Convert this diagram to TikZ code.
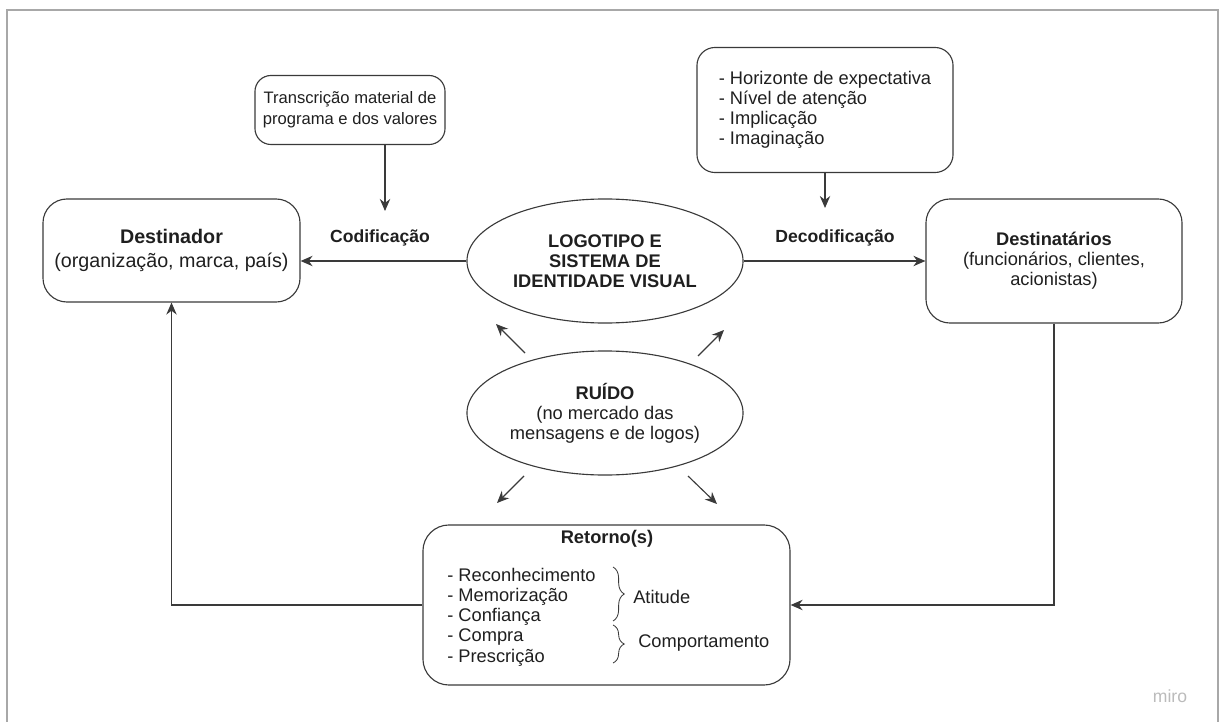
\documentclass[tikz,border=0pt]{standalone}
\usepackage{fontspec}
\setmainfont{Liberation Sans}
\usetikzlibrary{arrows.meta,positioning,shapes.geometric,decorations.pathreplacing}
\definecolor{inkGray}{HTML}{3A3A3A}
\definecolor{frameGray}{HTML}{A8A8A8}
\definecolor{miroGray}{HTML}{BBBBBB}

\begin{document}
\begin{tikzpicture}[
  x=0.025cm, y=-0.025cm,
  >=Stealth,
  font=\fontsize{13}{14.2}\selectfont,
  roundbox/.style={draw=inkGray, line width=0.8pt, rounded corners=0.5cm, align=center, inner sep=0pt, text=black!88},
  oval/.style={ellipse, draw=inkGray, line width=0.8pt, align=center, inner sep=0pt, minimum width=6.9cm, minimum height=3.1cm, text=black!88},
  flow/.style={-{Stealth[length=3mm, width=2.6mm]}, line width=0.8pt, draw=inkGray},
  lbl/.style={font=\fontsize{12.5}{14}\selectfont\bfseries, text=black!88},
  bracefig/.style={decorate, decoration={brace, amplitude=8pt}, line width=0.6pt, draw=inkGray}
]
\useasboundingbox (0,0) rectangle (1223,722);
\draw[frameGray, line width=1.3pt] (7,722) |- (1218,10) -- (1218,722);

% top inputs
\node[roundbox, rounded corners=0.4cm, minimum width=4.75cm, minimum height=1.725cm,
  font=\fontsize{11.8}{15}\selectfont] (trans) at (350,110)
  {Transcrição material de\\programa e dos valores};
\node[roundbox, rounded corners=0.45cm, minimum width=6.4cm, minimum height=3.125cm, align=left] (recep) at (825,110)
  {- Horizonte de expectativa\\- Nível de atenção\\- Implicação\\- Imaginação};

% main row
\node[roundbox, rounded corners=0.6cm, minimum width=6.425cm, minimum height=2.575cm,
  font=\fontsize{14}{16.5}\selectfont] (dest) at (171.5,250.5)
  {\textbf{Destinador}\\(organização, marca, país)};
\node[oval, font=\fontsize{13}{14.2}\selectfont\bfseries] (logo) at (605,261)
  {LOGOTIPO E\\SISTEMA DE\\IDENTIDADE VISUAL};
\node[roundbox, rounded corners=0.6cm, minimum width=6.4cm, minimum height=3.1cm] (rcv) at (1054,261)
  {\textbf{Destinatários}\\(funcionários, clientes,\\acionistas)};

\node[lbl] (codif) at (380,238) {Codificação};
\node[lbl] (decodif) at (835,238) {Decodificação};

\coordinate (codtip) at (385,211);
\coordinate (dectip) at (825,208);
\draw[flow] (trans.south -| codtip) -- (codtip);
\draw[flow] (recep.south) -- (dectip);
\draw[flow] (logo.west) -- (logo.west -| dest.east);
\draw[flow] (logo.east) -- (rcv.west);

% noise
\node[oval] (noise) at (605,413)
  {\textbf{RUÍDO}\\(no mercado das\\mensagens e de logos)};
\coordinate (nUL) at (525,353);
\coordinate (nULtip) at (496,324);
\coordinate (nUR) at (698,356);
\coordinate (nURtip) at (724,330);
\coordinate (nLL) at (524,476);
\coordinate (nLLtip) at (497,503);
\coordinate (nLR) at (688,476);
\coordinate (nLRtip) at (717,504);
\draw[flow] (nUL) -- (nULtip);
\draw[flow] (nUR) -- (nURtip);
\draw[flow] (nLL) -- (nLLtip);
\draw[flow] (nLR) -- (nLRtip);

% feedback
\node[roundbox, rounded corners=0.65cm, minimum width=9.175cm, minimum height=4.0cm] (ret) at (606.5,605) {};
\node[lbl, font=\fontsize{13}{14.2}\selectfont\bfseries] (rettitle) at (607,539) {Retorno(s)};
\node[align=left, anchor=west, inner sep=0pt, text=black!88, font=\fontsize{13}{14.4}\selectfont] (retlist) at (447,617)
  {- Reconhecimento\\- Memorização\\- Confiança\\- Compra\\- Prescrição};
\coordinate (attTop) at (613,567);
\coordinate (attBot) at (613,621);
\coordinate (behTop) at (613,625);
\coordinate (behBot) at (613,663);
\draw[bracefig] (attTop) -- (attBot);
\draw[bracefig] (behTop) -- (behBot);
\node[anchor=west, inner sep=0pt, text=black!88] (atit) at (633,597) {Atitude};
\node[anchor=west, inner sep=0pt, text=black!88] (comport) at (638,643) {Comportamento};

\draw[flow] (rcv.south) |- (ret.east);
\draw[flow] (ret.west) -| (dest.south);

\node[text=miroGray, font=\fontsize{12.5}{14}\selectfont] (miro) at (1170,696) {miro};
\end{tikzpicture}
\end{document}
